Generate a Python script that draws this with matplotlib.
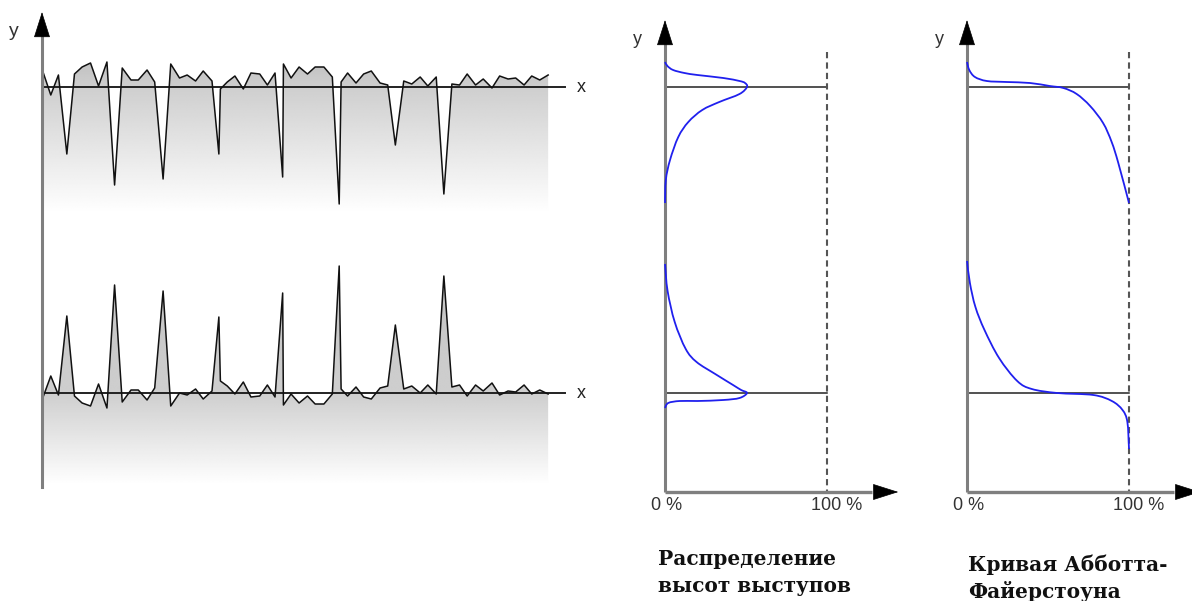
import numpy as np
import matplotlib.pyplot as plt
from matplotlib.patches import Polygon, PathPatch
from matplotlib.path import Path

# --- profile data (length units along x, heights relative to the mean line) ---
profile_x = [0, 1.15, 2.15, 3.25, 4.25, 5.25, 6.35, 7.4, 8.5, 9.5, 10.5, 11.65, 12.6, 13.75,
             14.75, 15.85, 16.85, 18.0, 19.0, 20.1, 21.1, 22.25, 23.15, 23.35, 24.25, 25.25,
             26.35, 27.35, 28.5, 29.5, 30.5, 31.5, 31.6, 32.6, 33.65, 34.75, 35.75, 36.9, 38.0,
             38.9, 39.15, 40.0, 41.1, 42.1, 43.1, 44.25, 45.25, 46.25, 47.35, 48.4, 49.5, 50.5,
             51.6, 52.6, 53.65, 54.65, 55.65, 56.75, 57.75, 58.9, 59.9, 61.0, 62.0, 63.1, 64.1,
             65.15, 66.25]

# profile with deep valleys
top_h = [18, -8, 12, -67, 13, 20, 24, 1, 25, -98, 19, 7, 7, 17, 5, -92, 23, 9, 12, 6, 16, 6,
         -67, -2, 5, 11, -2, 14, 13, 2, 14, -90, 23, 9, 20, 13, 20, 20, 10, -117, 5, 14, 4, 13,
         16, 4, 2, -58, 6, 3, 10, 1, 10, -107, 3, 2, 13, 2, 8, -1, 11, 8, 9, 2, 11, 7, 12]

# profile with high peaks
bot_h = [-7, 17, -2, 77, -3, -10, -13, 9, -15, 108, -9, 3, 3, -7, 5, 102, -13, 0, -2, 4, -6,
         2, 76, 12, 7, -1, 11, -4, -3, 8, -4, 100, -12, -1, -10, -3, -11, -11, -1, 127, 4, -3,
         6, -4, -6, 5, 7, 68, 4, 7, 0, 8, -1, 117, 6, 8, -3, 8, 2, 10, -2, 2, 1, 8, -1, 3, -1]

# --- height distribution (% vs height) ---
dist_top_pct = [0, 1.5, 5, 12, 20, 36, 46, 49.4, 50.6, 46, 33.5, 23, 14.4, 8.2, 3.1, 0.5, 0]
dist_top_h = [25, 21, 17, 14, 12, 9, 6, 4, 0, -7, -15, -23, -35, -50, -73, -93, -116]
dist_bot_pct = [0, 1.6, 6, 12.8, 19.5, 31, 42, 47, 50.6, 46, 36, 20, 9, 2, 0]
dist_bot_h = [129, 102, 71, 44, 31, 19, 8, 3, 0, -5, -7, -8, -8, -10, -15]

# --- Abbott-Firestone curves ---
abbott_top_pct = [0, 1.4, 4.9, 12.2, 24.5, 38.9, 51, 59.5, 67.7, 76, 84, 89.3, 93.4, 100]
abbott_top_h = [25, 17, 10, 6, 5, 4, 1, -1, -7, -19, -36, -55, -76, -116]
abbott_bot_pct = [0, 1.8, 5.2, 10.8, 19.8, 31, 40, 55.7, 78, 89.4, 96, 99, 100]
abbott_bot_h = [132, 110, 86, 63, 35, 12, 4, 0, -2, -8, -17, -29, -56]

titles = ['Распределение\nвысот выступов', 'Кривая Абботта-\nФайерстоуна']

W, H = 1192, 601
BASE_TOP, BASE_BOT = 0, -306
YLIM = (87 - H, 87)
AXIS_GRAY = '#7f7f7f'
SANS = 'Liberation Sans'

fig = plt.figure(figsize=(W / 100, H / 100), dpi=100)


def make_ax(px0, px1, origin, px_per_unit):
    ax = fig.add_axes([px0 / W, 0, (px1 - px0) / W, 1])
    ax.set_xlim((px0 - origin) / px_per_unit, (px1 - origin) / px_per_unit)
    ax.set_ylim(*YLIM)
    ax.axis('off')
    return ax


def head(ax, xy, direction):
    dx, dy = direction
    ax.annotate('', xy=xy, xytext=(-dx * 17, -dy * 17), textcoords='offset points',
                arrowprops=dict(arrowstyle='-|>,head_length=0.85,head_width=0.27',
                                mutation_scale=20, color='black', lw=0.5,
                                shrinkA=0, shrinkB=0), annotation_clip=False)


def smooth_curve(ax, xs, ys, **kw):
    # catmull-rom through the read points, drawn as cubic bezier segments
    p = np.column_stack([xs, ys]).astype(float)
    ext = np.vstack([p[0], p, p[-1]])
    verts, codes = [p[0]], [Path.MOVETO]
    for i in range(1, len(ext) - 2):
        p0, p1, p2, p3 = ext[i - 1], ext[i], ext[i + 1], ext[i + 2]
        verts += [p1 + (p2 - p0) / 6, p2 - (p3 - p1) / 6, p2]
        codes += [Path.CURVE4] * 3
    ax.add_patch(PathPatch(Path(verts, codes), facecolor='none', zorder=4, **kw))


# ---------------- left: two profiles ----------------
axl = make_ax(0, 600, 42, 7.64)
x = np.array(profile_x)
for base, h, depth in [(BASE_TOP, top_h, -126), (BASE_BOT, bot_h, -92)]:
    h = np.array(h)
    ytop, ybot = base + h.max(), base + depth
    yy = np.linspace(ybot, ytop, 300)
    g = np.interp(yy, [ybot, base, ytop], [1.0, 0.81, 0.76])
    img = np.tile(g[:, None], (1, 2))
    im = axl.imshow(img, cmap='gray', vmin=0, vmax=1, origin='lower', aspect='auto',
                    extent=[x[0], x[-1], ybot, ytop], interpolation='bilinear')
    verts = np.column_stack([np.r_[x, x[::-1]], np.r_[base + h, np.full(len(x), ybot)]])
    clip = Polygon(verts, closed=True, facecolor='none', edgecolor='none',
                   transform=axl.transData)
    axl.add_patch(clip)
    im.set_clip_path(clip)
    axl.plot([0, 68.5], [base, base], color='#222222', lw=1.4)
    axl.plot(x, base + h, color='#111111', lw=1.1)
    axl.text(70.6, base, 'x', fontsize=13, family=SANS, ha='center', va='center',
             color='#222222')
axl.set_xlim((0 - 42) / 7.64, (600 - 42) / 7.64)
axl.set_ylim(*YLIM)
axl.plot([0, 0], [87 - 487, 87 - 30], color=AXIS_GRAY, lw=2.2)
head(axl, (0, 87 - 12), (0, 1))
axl.text(-3.7, 87 - 31, 'y', fontsize=14, family=SANS, ha='center', va='center',
         color='#333333')

# ---------------- right: distribution and Abbott curves ----------------
panels = [
    (620, 910, 665, dist_top_pct, dist_top_h, dist_bot_pct, dist_bot_h, titles[0], -4.3, 0),
    (920, 1192, 967, abbott_top_pct, abbott_top_h, abbott_bot_pct, abbott_bot_h, titles[1],
     0.8, -6),
]
for px0, px1, origin, tp, th, bp, bh, title, tx, ty in panels:
    ax = make_ax(px0, px1, origin, 1.62)
    ax.plot([0, 100], [BASE_TOP, BASE_TOP], color='#222222', lw=1.1)
    ax.plot([0, 100], [BASE_BOT, BASE_BOT], color='#222222', lw=1.1)
    ax.plot([100, 100], [87 - 52, 87 - 492], color='#555555', lw=1.5, ls=(0, (3, 2)))
    ax.plot([0, 0], [87 - 492, 87 - 40], color=AXIS_GRAY, lw=2.2, solid_capstyle='butt')
    ax.plot([0, 128], [87 - 492, 87 - 492], color=AXIS_GRAY, lw=2.4, solid_capstyle='butt')
    smooth_curve(ax, tp, BASE_TOP + np.array(th), edgecolor='#2020ee', lw=1.3)
    smooth_curve(ax, bp, BASE_BOT + np.array(bh), edgecolor='#2020ee', lw=1.3)
    head(ax, (0, 87 - 20), (0, 1))
    head(ax, (144, 87 - 492), (1, 0))
    ax.text(-17, 87 - 40, 'y', fontsize=13, family=SANS, ha='center', va='center',
            color='#333333')
    ax.text(1.0, 87 - 505, '0 %', fontsize=13, family=SANS, ha='center', va='center',
            color='#333333')
    ax.text(106.2, 87 - 506, '100 %', fontsize=13, family=SANS, ha='center', va='center',
            color='#333333')
    for i, line in enumerate(title.split('\n')):
        ax.text(tx, 87 - 565 - 27 * i + ty, line,
                fontsize=14.5, fontweight='bold', family='DejaVu Serif',
                ha='left', va='baseline', color='#111111')

fig.savefig('out.png', dpi=100)
